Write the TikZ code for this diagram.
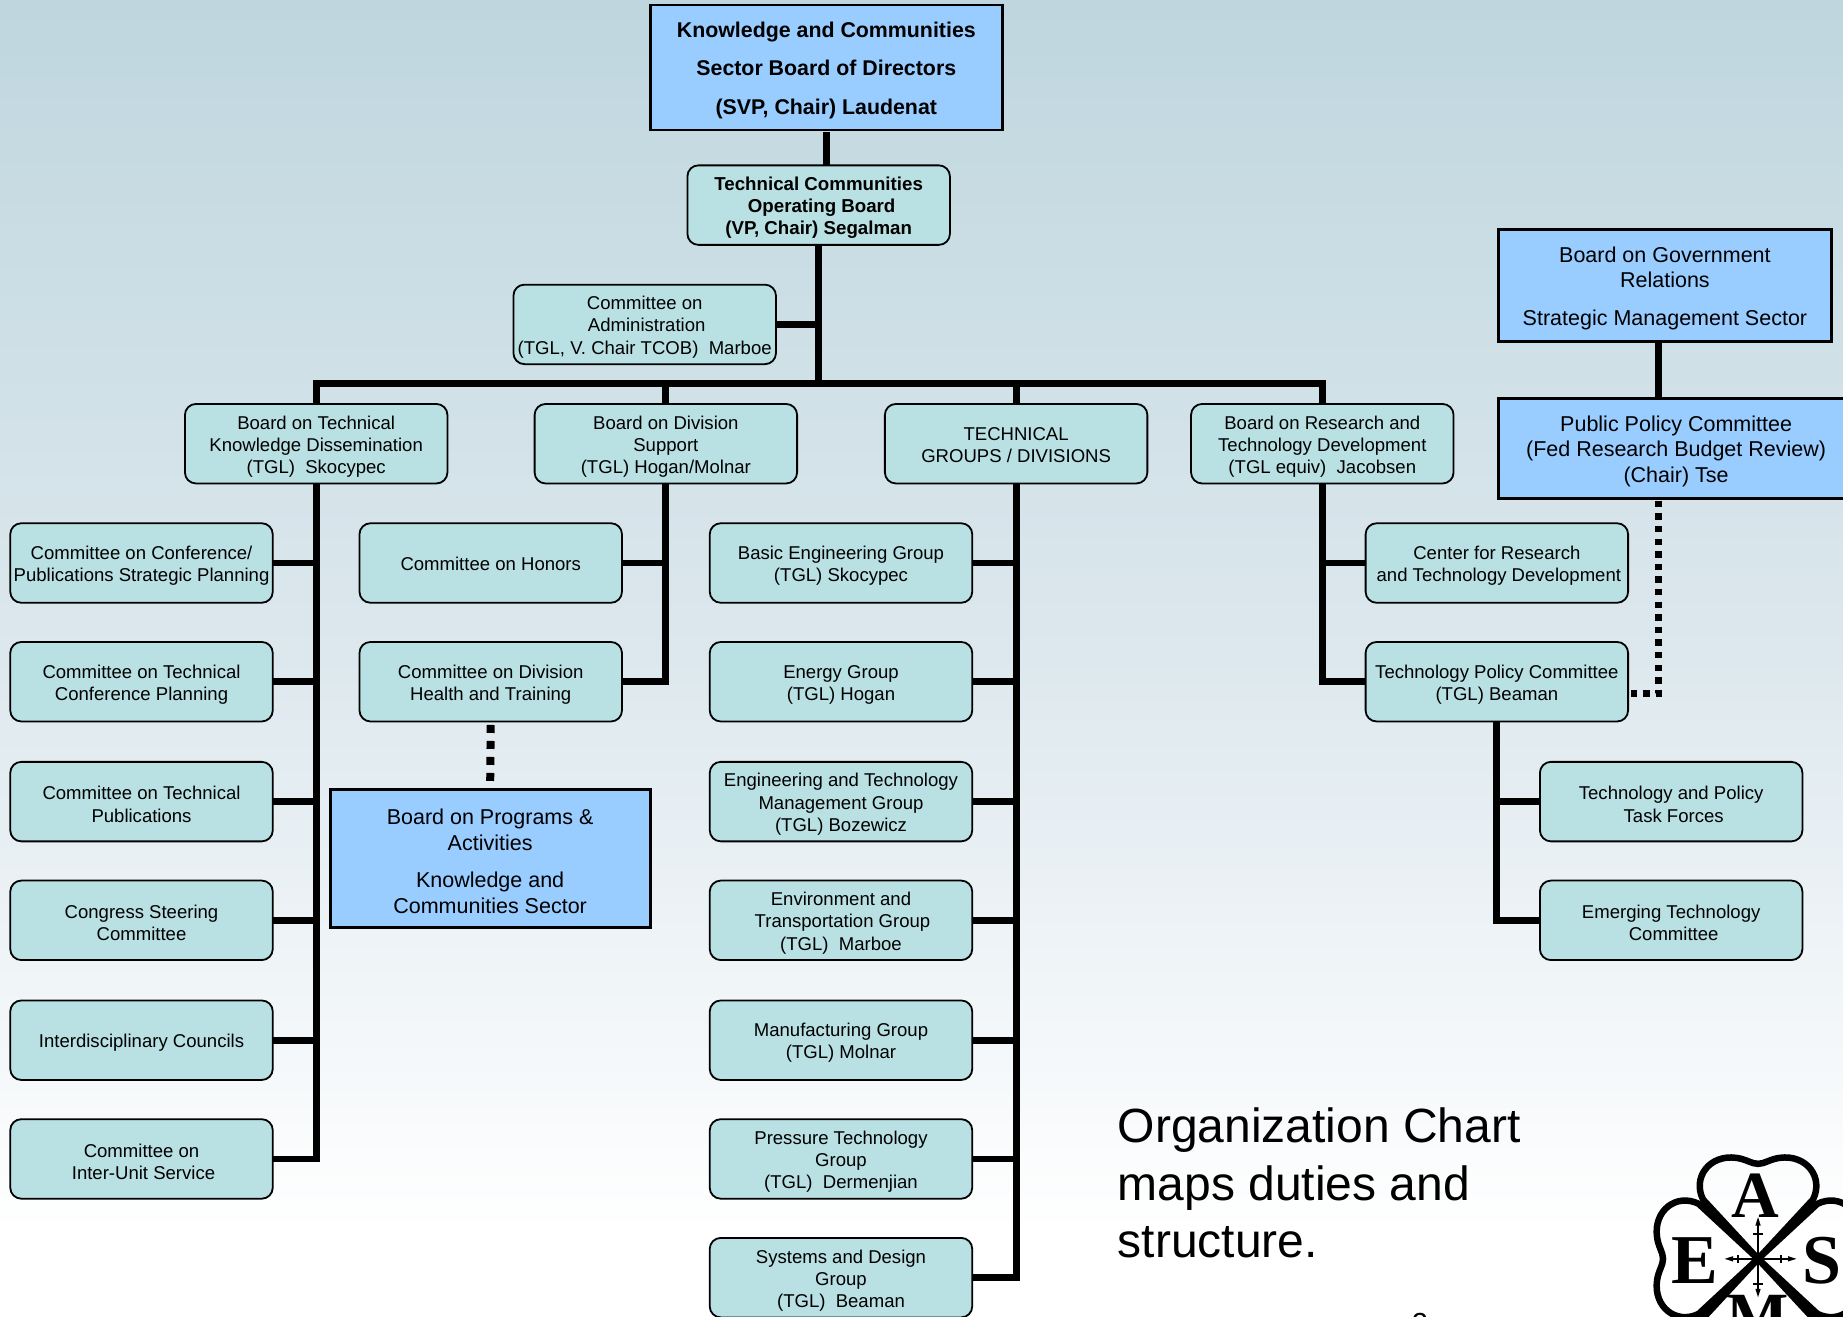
\documentclass[tikz,border=0pt]{standalone}
\usepackage{fontspec}
\setmainfont{Liberation Sans}
\newfontfamily\logofont{Liberation Serif}
\usetikzlibrary{calc}
\definecolor{teal}{RGB}{185,224,227}
\definecolor{sky}{RGB}{153,204,255}
\definecolor{bgtop}{RGB}{191,214,222}
\definecolor{bgmid}{RGB}{221,232,238}
\newcommand{\up}{\rule{0pt}{19pt}}
\newcommand{\upb}{\rule{0pt}{21pt}}
\tikzset{
  every node/.style={inner sep=0pt,outer sep=0pt},
  box/.style={draw=black,line width=1.8pt,fill=teal,rounded corners=11pt,minimum width=262.5pt,minimum height=79.5pt,align=center,font=\fontsize{18.55}{22.2}\selectfont},
  bboxb/.style={box,font=\bfseries\fontsize{18.7}{22.2}\selectfont},
  skybox/.style={draw=black,line width=2.8pt,fill=sky,rounded corners=0pt,align=center,font=\fontsize{21.5}{25.6}\selectfont},
  link/.style={line width=6.8pt,draw=black,line join=miter},
  dotlink/.style={line width=8pt,draw=black,dash pattern=on 8pt off 8pt},
  dotlinkthin/.style={line width=6.5pt,draw=black,dash pattern=on 6.4pt off 6.2pt},
}
\begin{document}
\begin{tikzpicture}[x=1.17538pt,y=-1.17538pt]
\path[use as bounding box] (0,0) rectangle (1568,1120);
\clip (0,0) rectangle (1568,1120);
\shade[top color=bgtop,bottom color=bgmid] (0,0) rectangle (1568,560);
\shade[top color=bgmid,bottom color=white] (0,560) rectangle (1568,1050);
\fill[white] (0,1049) rectangle (1568,1120);

% nodes
\node[skybox,minimum width=352pt,minimum height=125pt,font=\bfseries\fontsize{21.35}{38.6}\selectfont] (top) at (703,57.5) {\upb Knowledge and Communities\\Sector Board of Directors\\(SVP, Chair) Laudenat};
\node[bboxb] (tcob) at (696.5,174.5) {\up Technical Communities\\\hspace{6pt}Operating Board\\(VP, Chair) Segalman};
\node[box] (adm) at (548.5,276) {\up Committee on\\\hspace{4pt}Administration\\(TGL, V. Chair TCOB)\ \ Marboe};

\node[box] (tkd) at (269,377.5) {\up Board on Technical\\Knowledge Dissemination\\(TGL)\ \ Skocypec};
\node[box] (ds) at (566.5,377.5) {\up Board on Division\\Support\\(TGL) Hogan/Molnar};
\node[box] (tg) at (864.5,377.5) {\rule{0pt}{16pt}TECHNICAL\\GROUPS / DIVISIONS};
\node[box] (trd) at (1125,377.5) {\up Board on Research and\\Technology Development\\(TGL equiv)\ \ Jacobsen};

\node[box] (l1) at (120.4,479) {\up Committee on Conference/\\Publications Strategic Planning};
\node[box] (l2) at (120.4,580) {\up Committee on Technical\\Conference Planning};
\node[box] (l3) at (120.4,682) {\up Committee on Technical\\Publications};
\node[box] (l4) at (120.4,783) {\up Congress Steering\\Committee};
\node[box] (l5) at (120.4,885) {\up Interdisciplinary Councils};
\node[box] (l6) at (120.4,986) {\up Committee on\\\hspace{4pt}Inter-Unit Service};

\node[box] (d1) at (417.5,479) {\rule{0pt}{15pt}Committee on Honors};
\node[box] (d2) at (417.5,580) {\up Committee on Division\\Health and Training};
\node[skybox,minimum width=320pt,minimum height=137.5pt] (bpa) at (417,730.5) {\upb Board on Programs \&\\Activities\\[12pt]Knowledge and\\Communities Sector};

\node[box] (g1) at (715.5,479) {\up Basic Engineering Group\\(TGL) Skocypec};
\node[box] (g2) at (715.5,580) {\up Energy Group\\(TGL) Hogan};
\node[box] (g3) at (715.5,682) {\up Engineering and Technology\\Management Group\\(TGL) Bozewicz};
\node[box] (g4) at (715.5,783) {\up Environment and\\\hspace{3pt}Transportation Group\\(TGL)\ \ Marboe};
\node[box] (g5) at (715.5,885) {\up Manufacturing Group\\(TGL) Molnar};
\node[box] (g6) at (715.5,986) {\up Pressure Technology\\Group\\(TGL)\ \ Dermenjian};
\node[box] (g7) at (715.5,1087) {\up Systems and Design\\Group\\(TGL)\ \ Beaman};

\node[box] (r1) at (1273.5,479) {\up Center for Research\\\hspace{4pt}and Technology Development};
\node[box] (r2) at (1273.5,580) {\up Technology Policy Committee\\(TGL) Beaman};
\node[box] (t1) at (1421.8,682) {\up Technology and Policy\\\hspace{5pt}Task Forces};
\node[box] (t2) at (1421.8,783) {\up Emerging Technology\\\hspace{5pt}Committee};

\node[skybox,minimum width=333pt,minimum height=112.5pt] (gov) at (1416.5,243) {\upb Board on Government\\Relations\\[12pt]Strategic Management Sector};
\node[skybox,minimum width=355pt,minimum height=100pt] (ppc) at (1426,381.5) {\upb Public Policy Committee\\(Fed Research Budget Review)\\(Chair) Tse};

% free ends of the connectors that leave a box off centre
\coordinate (topout) at (703,112.5);
\coordinate (tcobin) at (703,140.5);
\coordinate (busM) at (696.5,326.3);
\coordinate (govout) at (1411,291);
\coordinate (ppcin) at (1411,339);
\coordinate (ppcout) at (1411,426);
\coordinate (polin) at (1386,590);
\coordinate (polmid) at (1411,590);

% connectors
\draw[link,line width=7.5pt] (topout) -- (tcobin);
\draw[link] (tcob.south) -- (busM);
\draw[link] (adm.east) -- (adm.east -| tcob.south);
\draw[link] (tkd.north) |- (busM) -| (trd.north);
\draw[link] (ds.north) -- (ds.north |- busM);
\draw[link] (tg.north) -- (tg.north |- busM);
\foreach \c in {l1,l2,l3,l4,l5,l6} \draw[link] (\c.east) -| (tkd.south);
\foreach \c in {d1,d2} \draw[link] (\c.east) -| (ds.south);
\foreach \c in {g1,g2,g3,g4,g5,g6,g7} \draw[link] (\c.east) -| (tg.south);
\foreach \c in {r1,r2} \draw[link] (\c.west) -| (trd.south);
\foreach \c in {t1,t2} \draw[link] (\c.west) -| (r2.south);
\draw[link] (govout) -- (ppcin);
\draw[dotlink,shorten <=3.5pt,shorten >=8.5pt] (d2.south) -- (bpa.north);
\draw[dotlinkthin] (ppcout) -- (polmid) -- (polin);

% caption
\node[anchor=north west,align=left,font=\fontsize{48}{57.6}\selectfont] (cap) at (951,942.5) {Organization Chart\\maps duties and\\structure.};
\node[font=\fontsize{29}{29}\selectfont,anchor=base] (pg) at (1208,1134.5) {2};

% emblem
\begin{scope}[shift={(1495.7,1071)},x=0.3333pt,y=-0.3333pt]
  \foreach \a in {0,90,180,270}{
    \draw[black,line width=6.5pt,line join=round,rotate=\a]
      (0,0) -- (-165,-178)
      .. controls (-198,-245) and (-145,-314) .. (-65,-303)
      .. controls (-35,-299) and (-20,-285) .. (0,-285)
      .. controls (20,-285) and (35,-299) .. (65,-303)
      .. controls (145,-314) and (198,-245) .. (165,-178) -- cycle;
  }
  \draw[black,line width=1.9pt] (0,-115) -- (0,105) (-90,0) -- (105,0)
     (-14,-75) -- (14,-75) (-14,75) -- (14,75) (-60,-12) -- (-60,12) (70,-12) -- (70,12);
  \fill[black] (0,-125) -- (8,-100) -- (-8,-100) -- cycle (0,115) -- (8,90) -- (-8,90) -- cycle
     (-100,0) -- (-75,8) -- (-75,-8) -- cycle (115,0) -- (90,8) -- (90,-8) -- cycle;
  \fill[black] (0,0) circle (18);
  \node[font=\logofont\bfseries\fontsize{66}{66}\selectfont] (la) at (-8,-190) {A};
  \node[font=\logofont\bfseries\fontsize{70}{70}\selectfont] (le) at (-190,5) {E};
  \node[font=\logofont\bfseries\fontsize{70}{70}\selectfont] (ls) at (192,5) {S};
  \node[font=\logofont\bfseries\fontsize{66}{66}\selectfont,anchor=north] (lm) at (0,108) {M};
\end{scope}
\end{tikzpicture}
\end{document}
